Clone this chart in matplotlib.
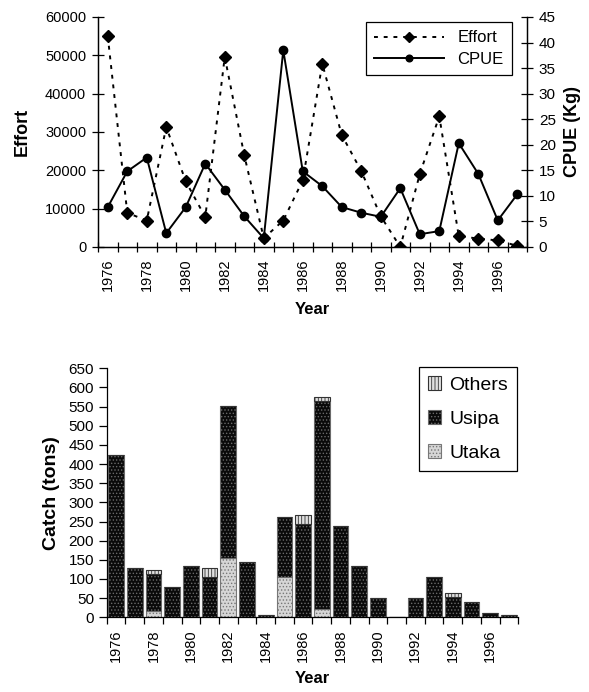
import numpy as np
import matplotlib
matplotlib.use('Agg')
import matplotlib.pyplot as plt

plt.rcParams['font.family'] = ['Liberation Sans', 'DejaVu Sans']
plt.rcParams['hatch.linewidth'] = 0.6

years = list(range(1976, 1998))
effort = [55000, 8900, 6900, 31300, 17100, 7800, 49600, 23900, 2300, 6900, 17400,
          47800, 29200, 19800, 8000, 0, 19000, 34100, 2800, 2200, 1700, 300]
cpue = [7.8, 14.8, 17.5, 2.7, 7.8, 16.3, 11.2, 6.0, 1.7, 38.5, 14.8,
        11.9, 7.8, 6.7, 5.9, 11.5, 2.5, 3.1, 20.3, 14.3, 5.2, 10.3]

utaka = [0, 0, 17, 0, 0, 0, 154, 0, 0, 105, 0, 22, 0, 0, 0, 0, 0, 0, 0, 0, 0, 0]
usipa = [423, 129, 97, 80, 134, 104, 397, 144, 6, 156, 243, 543, 237, 134, 51, 0,
         51, 104, 54, 41, 11, 6]
others = [0, 0, 10, 0, 0, 25, 0, 0, 0, 0, 23, 11, 0, 0, 0, 0, 0, 0, 10, 0, 0, 0]

x = np.arange(len(years))
label_pos = x[::2]
label_txt = [str(y) for y in years[::2]]

fig = plt.figure(figsize=(5.89, 6.92), dpi=100)

# ---- top: effort and CPUE ----
ax = fig.add_axes([0.1664, 0.6431, 0.7284, 0.3324])
ax2 = ax.twinx()
l1, = ax.plot(x, effort, color='black', linestyle=(0, (2, 3)), linewidth=1.4,
              marker='D', markersize=6)
l2, = ax2.plot(x, cpue, color='black', linestyle='-', linewidth=1.4,
               marker='o', markersize=6)
ax.set_xlim(-0.5, len(years) - 0.5)
ax.set_ylim(0, 60000)
ax2.set_ylim(0, 45)
ax.set_yticks(np.arange(0, 60001, 10000))
ax2.set_yticks(np.arange(0, 46, 5))
ax.set_xticks(np.arange(-0.5, len(years), 1))
ax.set_xticklabels([])
ax.set_xticks(label_pos, minor=True)
ax.set_xticklabels(label_txt, minor=True, rotation=90, fontsize=10.5)
ax.tick_params(axis='x', which='major', direction='inout', length=7, width=0.9)
ax.tick_params(axis='x', which='minor', length=0, pad=8)
ax.tick_params(axis='y', direction='inout', length=9, width=0.9, labelsize=10.5, pad=4)
ax2.tick_params(axis='y', direction='inout', length=9, width=0.9, labelsize=11, pad=4)
for a in (ax, ax2):
    a.spines['top'].set_visible(False)
    for s in ('left', 'right', 'bottom'):
        a.spines[s].set_linewidth(0.9)
ax.set_ylabel('Effort', fontsize=13, fontweight='bold', labelpad=10)
ax2.set_ylabel('CPUE (Kg)', fontsize=13, fontweight='bold', labelpad=6)
ax.set_xlabel('Year', fontsize=12, fontweight='bold', labelpad=8)
leg = ax2.legend([l1, l2], ['Effort', 'CPUE'], loc='upper right',
                 bbox_to_anchor=(0.965, 0.978), borderaxespad=0, fontsize=12,
                 handlelength=4.2, fancybox=False, framealpha=1,
                 edgecolor='black', borderpad=0.5, labelspacing=0.4,
                 markerscale=0.8)
leg.get_frame().set_linewidth(0.9)

# ---- bottom: catch ----
bx = fig.add_axes([0.1811, 0.1080, 0.6988, 0.3598])
w = 0.84
b_ut = bx.bar(x, utaka, width=w, color='#d6d6d6', edgecolor='#777777',
              hatch='.....', linewidth=0.8, label='Utaka')
b_us = bx.bar(x, usipa, width=w, bottom=utaka, color='#0a0a0a', edgecolor='#6a6a6a',
              hatch='.....', linewidth=0.8, label='Usipa')
bot2 = [a + b for a, b in zip(utaka, usipa)]
b_ot = bx.bar(x, others, width=w, bottom=bot2, color='#e0e0e0', edgecolor='#333333',
              hatch='|||||', linewidth=0.8, label='Others')
bx.set_xlim(-0.5, len(years) - 0.5)
bx.set_ylim(0, 650)
bx.set_yticks(np.arange(0, 651, 50))
bx.set_xticks(np.arange(-0.5, len(years), 1))
bx.set_xticklabels([])
bx.set_xticks(label_pos, minor=True)
bx.set_xticklabels(label_txt, minor=True, rotation=90, fontsize=10.5)
bx.tick_params(axis='x', which='major', direction='out', length=5, width=0.9)
bx.tick_params(axis='x', which='minor', length=0, pad=9)
bx.tick_params(axis='y', direction='out', length=6, width=0.9, labelsize=11, pad=3)
bx.spines['top'].set_visible(False)
bx.spines['right'].set_visible(False)
bx.spines['left'].set_linewidth(0.9)
bx.spines['bottom'].set_linewidth(0.9)
bx.set_ylabel('Catch (tons)', fontsize=14, fontweight='bold', labelpad=6)
bx.set_xlabel('Year', fontsize=12, fontweight='bold', labelpad=6)
leg2 = bx.legend([b_ot, b_us, b_ut], ['Others', 'Usipa', 'Utaka'], loc='upper right',
                 bbox_to_anchor=(0.996, 1.004), borderaxespad=0, fontsize=14,
                 handlelength=0.7, handleheight=0.7, handletextpad=0.4,
                 fancybox=False, framealpha=1, edgecolor='black',
                 borderpad=0.45, labelspacing=0.85)
leg2.get_frame().set_linewidth(0.9)

fig.savefig('out.png', dpi=100)
